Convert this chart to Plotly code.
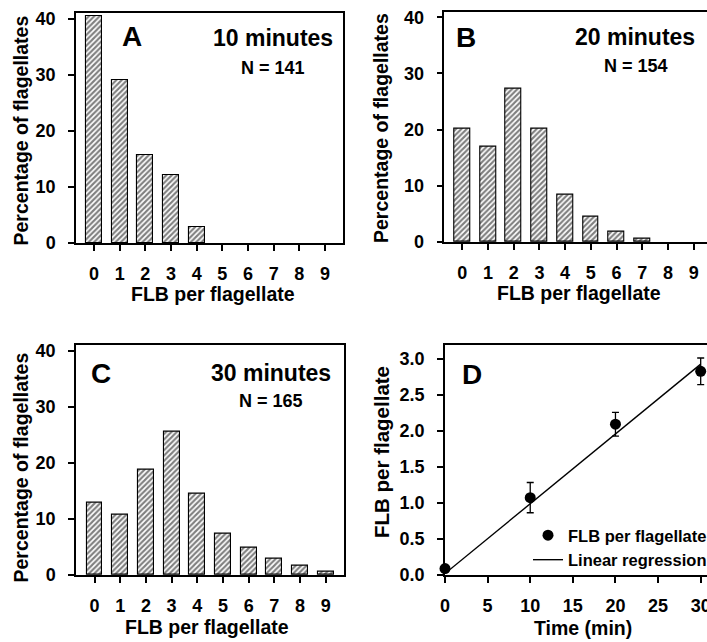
import plotly.graph_objects as go

# ---------------- data ----------------
flb_bins = [0, 1, 2, 3, 4, 5, 6, 7, 8, 9]
pct_10min = [40.5, 29.1, 15.6, 12.2, 2.8, 0, 0, 0, 0, 0]
pct_20min = [20.2, 17.0, 27.3, 20.2, 8.5, 4.5, 1.9, 0.6, 0, 0]
pct_30min = [12.9, 10.8, 18.8, 25.5, 14.5, 7.3, 4.8, 2.9, 1.7, 0.6]

time_min = [0, 10, 20, 30]
flb_mean = [0.09, 1.075, 2.095, 2.83]
flb_err = [0.0, 0.21, 0.165, 0.185]
reg_time = [0, 30]
reg_flb = [0.02, 2.93]

panel_letters = ["A", "B", "C", "D"]
panel_titles = ["10 minutes", "20 minutes", "30 minutes"]
panel_n = ["N = 141", "N = 154", "N = 165"]

W, H = 707, 642
FONT = "Liberation Sans, Arial, Helvetica, sans-serif"


def px(x):
    return x / W


def py(y):
    return 1 - y / H


fig = go.Figure()

hist_sets = [pct_10min, pct_20min, pct_30min]
for i, vals in enumerate(hist_sets):
    sfx = "" if i == 0 else str(i + 1)
    fig.add_trace(go.Bar(
        x=flb_bins, y=vals, width=0.62,
        xaxis="x" + sfx, yaxis="y" + sfx,
        marker=dict(color="white",
                    line=dict(color="black",
                              width=[1.1 if v > 0 else 0 for v in vals]),
                    pattern=dict(shape="/", size=3.8, solidity=0.55,
                                 fgcolor="black", bgcolor="white")),
        showlegend=False, hoverinfo="x+y",
    ))

fig.add_trace(go.Scatter(
    x=time_min, y=flb_mean, mode="markers", name="FLB per flagellate",
    xaxis="x4", yaxis="y4", cliponaxis=False,
    marker=dict(color="black", size=11, symbol="circle"),
    error_y=dict(type="data", array=flb_err, visible=True,
                 color="black", thickness=1.3, width=3.5),
))
fig.add_trace(go.Scatter(
    x=reg_time, y=reg_flb, mode="lines", name="Linear regression",
    xaxis="x4", yaxis="y4",
    line=dict(color="black", width=1.4),
))

tickfont = dict(family=FONT, size=18, color="black", weight="bold")
common = dict(showline=True, linecolor="black", linewidth=1.5,
              ticks="outside", ticklen=6, tickwidth=1.5, tickcolor="black",
              showgrid=False, zeroline=False, tickfont=tickfont,
              fixedrange=True, ticklabeloverflow="allow")

# axis geometry (pixel coordinates of the frames)
frames = {
    "": dict(x=(76, 343), y=(243, 13), xr=[-0.7, 9.7], yr=[0, 41], mirror_y=True),
    "2": dict(x=(444.3, 707), y=(242, 11.7), xr=[-0.7, 9.52], yr=[0, 41], mirror_y=False),
    "3": dict(x=(76, 344), y=(575, 344.7), xr=[-0.72, 9.71], yr=[0, 41.07], mirror_y=True),
}
layout_axes = {}
for sfx, f in frames.items():
    layout_axes["xaxis" + sfx] = dict(
        common, domain=[px(f["x"][0]), px(f["x"][1])], range=f["xr"],
        anchor="y" + sfx, tickmode="array", tickvals=flb_bins,
        ticktext=[str(b) for b in flb_bins], mirror=True,
        ticklabelstandoff=8)
    layout_axes["yaxis" + sfx] = dict(
        common, domain=[py(f["y"][0]), py(f["y"][1])], range=f["yr"],
        anchor="x" + sfx, tickvals=[0, 10, 20, 30, 40],
        mirror=f["mirror_y"], ticklabelstandoff=9)

layout_axes["xaxis4"] = dict(
    common, domain=[px(445), px(707)], range=[0, 30.74], anchor="y4",
    tickvals=[0, 5, 10, 15, 20, 25, 30], mirror=True, ticklabelstandoff=8)
layout_axes["yaxis4"] = dict(
    common, domain=[py(575), py(344.7)], range=[0, 3.2], anchor="x4",
    tickvals=[0, 0.5, 1.0, 1.5, 2.0, 2.5, 3.0], tickformat=".1f",
    mirror=False, ticklabelstandoff=9)


def ann(text, x, y, size, angle=0):
    return dict(text=text, x=px(x), y=py(y), xref="paper", yref="paper",
                xanchor="center", yanchor="middle", showarrow=False,
                textangle=angle,
                font=dict(family=FONT, size=size, color="black", weight="bold"))


annotations = [
    # panel letters
    ann(panel_letters[0], 132, 36.7, 28),
    ann(panel_letters[1], 466.4, 37.5, 28),
    ann(panel_letters[2], 101.5, 374, 28),
    ann(panel_letters[3], 471.8, 374.7, 28),
    # time titles
    ann(panel_titles[0], 272.5, 38.5, 23),
    ann(panel_titles[1], 635, 37.2, 23),
    ann(panel_titles[2], 270.8, 373.3, 23),
    # N
    ann(panel_n[0], 272.5, 67.9, 18),
    ann(panel_n[1], 635.8, 65.5, 18),
    ann(panel_n[2], 271, 401, 18),
    # axis titles
    ann("FLB per flagellate", 213, 293.5, 19.5),
    ann("FLB per flagellate", 579, 293, 19.5),
    ann("FLB per flagellate", 207.5, 626.5, 19.5),
    ann("Time (min)", 583.3, 628, 19.5),
    ann("Percentage of flagellates", 20.5, 131, 19.5, -90),
    ann("Percentage of flagellates", 381, 128, 19.5, -90),
    ann("Percentage of flagellates", 20.5, 468, 19.5, -90),
    ann("FLB per flagellate", 381, 452, 20.5, -90),
]

fig.update_layout(
    width=W, height=H,
    margin=dict(l=0, r=0, t=0, b=0, autoexpand=False),
    paper_bgcolor="white", plot_bgcolor="white",
    font=dict(family=FONT, color="black"),
    annotations=annotations,
    showlegend=True,
    legend=dict(x=px(528), y=py(518), xanchor="left", yanchor="top",
                bgcolor="rgba(0,0,0,0)", borderwidth=0,
                font=dict(family=FONT, size=16.5, color="black", weight="bold"),
                tracegroupgap=0, itemwidth=30),
    bargap=0,
    **layout_axes,
)

fig.write_html(
    "out.html",
    config={"displayModeBar": False},
    post_script="document.body.style.margin='0';"
                "document.body.style.overflow='hidden';",
)
